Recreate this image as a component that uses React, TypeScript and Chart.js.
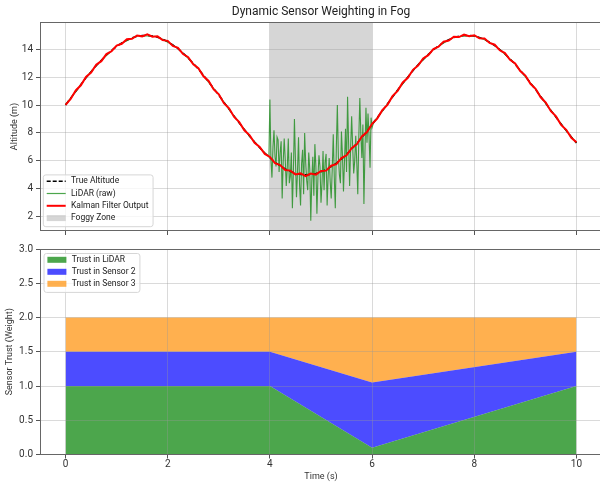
import React, { useEffect, useRef } from 'react';
import { Chart, registerables } from 'chart.js';

Chart.register(...registerables);

// ---------- data ----------
const TIME = [
  0.0, 0.1, 0.2, 0.3, 0.4, 0.5, 0.6, 0.7, 0.8, 0.9,
  1.0, 1.1, 1.2, 1.3, 1.4, 1.5, 1.6, 1.7, 1.8, 1.9,
  2.0, 2.1, 2.2, 2.3, 2.4, 2.5, 2.6, 2.7, 2.8, 2.9,
  3.0, 3.1, 3.2, 3.3, 3.4, 3.5, 3.6, 3.7, 3.8, 3.9,
  4.0, 4.1, 4.2, 4.3, 4.4, 4.5, 4.6, 4.7, 4.8, 4.9,
  5.0, 5.1, 5.2, 5.3, 5.4, 5.5, 5.6, 5.7, 5.8, 5.9,
  6.0, 6.1, 6.2, 6.3, 6.4, 6.5, 6.6, 6.7, 6.8, 6.9,
  7.0, 7.1, 7.2, 7.3, 7.4, 7.5, 7.6, 7.7, 7.8, 7.9,
  8.0, 8.1, 8.2, 8.3, 8.4, 8.5, 8.6, 8.7, 8.8, 8.9,
  9.0, 9.1, 9.2, 9.3, 9.4, 9.5, 9.6, 9.7, 9.8, 9.9,
  10.0,
];

const TRUE_ALTITUDE = [
  10.0, 10.5, 10.99, 11.48, 11.95, 12.4, 12.82, 13.22, 13.59, 13.92,
  14.21, 14.46, 14.66, 14.82, 14.93, 14.99, 15.0, 14.96, 14.87, 14.73,
  14.55, 14.32, 14.04, 13.73, 13.38, 12.99, 12.58, 12.14, 11.67, 11.19,
  10.71, 10.21, 9.71, 9.21, 8.72, 8.25, 7.79, 7.35, 6.94, 6.56,
  6.22, 5.91, 5.64, 5.42, 5.24, 5.11, 5.03, 5.0, 5.02, 5.09,
  5.21, 5.37, 5.58, 5.84, 6.13, 6.47, 6.84, 7.25, 7.68, 8.13,
  8.6, 9.09, 9.58, 10.08, 10.58, 11.08, 11.56, 12.02, 12.47, 12.89,
  13.28, 13.64, 13.96, 14.25, 14.49, 14.69, 14.84, 14.94, 14.99, 15.0,
  14.95, 14.85, 14.71, 14.52, 14.27, 13.99, 13.67, 13.31, 12.92, 12.5,
  12.06, 11.59, 11.11, 10.62, 10.12, 9.62, 9.13, 8.64, 8.17, 7.72,
  7.28,
];

const KALMAN_OUTPUT = [
  10.02, 10.44, 11.05, 11.42, 12.02, 12.33, 12.89, 13.15, 13.66, 13.86,
  14.27, 14.4, 14.72, 14.76, 14.99, 14.93, 15.07, 14.9, 14.93, 14.66,
  14.61, 14.25, 14.1, 13.66, 13.44, 12.92, 12.65, 12.07, 11.73, 11.12,
  10.77, 10.14, 9.77, 9.15, 8.78, 8.19, 7.85, 7.29, 7.0, 6.5,
  6.28, 5.84, 5.7, 5.34, 5.3, 5.03, 5.1, 4.91, 5.09, 5.01,
  5.28, 5.3, 5.65, 5.77, 6.2, 6.4, 6.91, 7.18, 7.75, 8.07,
  8.66, 9.03, 9.64, 10.02, 10.64, 11.02, 11.62, 11.96, 12.53, 12.83,
  13.34, 13.58, 14.02, 14.19, 14.55, 14.63, 14.9, 14.88, 15.05, 14.94,
  15.01, 14.79, 14.77, 14.46, 14.33, 13.93, 13.73, 13.25, 12.98, 12.44,
  12.12, 11.53, 11.17, 10.56, 10.18, 9.56, 9.19, 8.58, 8.23, 7.66,
  7.34,
];

const LIDAR_TIME = [
  0.0, 0.2, 0.4, 0.6, 0.8, 1.0, 1.2, 1.4, 1.6, 1.8,
  2.0, 2.2, 2.4, 2.6, 2.8, 3.0, 3.2, 3.4, 3.6, 3.8,
  3.9, 3.98,
  4.0, 4.02, 4.04, 4.06, 4.08, 4.1, 4.12, 4.14, 4.16, 4.18,
  4.2, 4.22, 4.24, 4.26, 4.28, 4.3, 4.32, 4.34, 4.36, 4.38,
  4.4, 4.42, 4.44, 4.46, 4.48, 4.5, 4.52, 4.54, 4.56, 4.58,
  4.6, 4.62, 4.64, 4.66, 4.68, 4.7, 4.72, 4.74, 4.76, 4.78,
  4.8, 4.82, 4.84, 4.86, 4.88, 4.9, 4.92, 4.94, 4.96, 4.98,
  5.0, 5.02, 5.04, 5.06, 5.08, 5.1, 5.12, 5.14, 5.16, 5.18,
  5.2, 5.22, 5.24, 5.26, 5.28, 5.3, 5.32, 5.34, 5.36, 5.38,
  5.4, 5.42, 5.44, 5.46, 5.48, 5.5, 5.52, 5.54, 5.56, 5.58,
  5.6, 5.62, 5.64, 5.66, 5.68, 5.7, 5.72, 5.74, 5.76, 5.78,
  5.8, 5.82, 5.84, 5.86, 5.88, 5.9, 5.92, 5.94, 5.96, 5.98,
  6.0,
  6.04, 6.1,
  6.2, 6.4, 6.6, 6.8, 7.0, 7.2, 7.4, 7.6, 7.8, 8.0,
  8.2, 8.4, 8.6, 8.8, 9.0, 9.2, 9.4, 9.6, 9.8, 10.0,
];

const LIDAR_RAW = [
  10.05, 10.95, 11.98, 12.85, 13.55, 14.25, 14.62, 14.97, 14.96, 14.91,
  14.51, 14.08, 13.35, 12.62, 11.63, 10.75, 9.68, 8.75, 7.76, 6.97,
  6.58, 6.28,
  10.4, 6.1, 4.8, 7.0, 8.2, 6.3, 5.6, 7.7, 7.5, 5.2,
  6.6, 7.4, 3.3, 5.9, 7.6, 6.1, 4.2, 5.5, 7.6, 4.4,
  4.9, 6.6, 2.6, 5.3, 9.0, 6.0, 3.4, 5.2, 7.7, 4.3,
  2.8, 5.8, 6.8, 3.6, 8.0, 5.9, 4.6, 3.9, 6.6, 5.4,
  1.7, 4.6, 6.3, 3.5, 7.2, 5.6, 2.2, 4.8, 6.4, 5.6,
  3.0, 4.4, 6.7, 3.9, 5.9, 6.5, 2.8, 4.9, 6.2, 4.5,
  3.3, 5.4, 7.9, 4.8, 2.6, 6.9, 10.0, 6.3, 5.0, 4.4,
  8.1, 6.4, 3.8, 6.0, 8.3, 5.2, 10.6, 7.3, 4.2, 6.9,
  9.2, 7.0, 5.1, 6.0, 7.8, 5.9, 3.6, 7.7, 10.5, 7.9,
  6.2, 8.6, 2.9, 6.6, 9.8, 7.3, 9.4, 7.8, 5.5, 9.1,
  8.4,
  8.85, 9.1,
  9.55, 10.62, 11.52, 12.5, 13.25, 13.99, 14.46, 14.87, 14.96, 14.98,
  14.68, 14.3, 13.64, 12.95, 12.03, 11.14, 10.09, 9.16, 8.14, 7.31,
];

const FOG_ZONE = [4, 6];

const TRUST_TIME = [0, 4, 6, 10];
const TRUST_LIDAR = [1.0, 1.0, 0.1, 1.0];
const TRUST_SENSOR2 = [0.5, 0.5, 0.95, 0.5];
const TRUST_SENSOR3 = [0.5, 0.5, 0.95, 0.5];

const X_TICKS = [0, 2, 4, 6, 8, 10];
const ALT_TICKS = [2, 4, 6, 8, 10, 12, 14];
const TRUST_TICKS = [0, 0.5, 1.0, 1.5, 2.0, 2.5, 3.0];

// ---------- styles ----------
const FONT = 'Roboto, "Noto Sans", sans-serif';
const GRID = 'rgba(150,150,150,0.45)';
const TICK_COLOR = '#555';
const TEXT = '#333';
const FOG_COLOR = 'rgba(128,128,128,0.32)';
const C_GREEN = 'rgba(0,128,0,0.7)';
const C_BLUE = 'rgba(0,0,255,0.7)';
const C_ORANGE = 'rgba(255,150,20,0.75)';

const pts = (xs: number[], ys: number[]) => xs.map((x, i) => ({ x, y: ys[i] }));

// ---------- plugins ----------
const fogPlugin = {
  id: 'fogZone',
  beforeDraw(chart: any, _args: any, opts: any) {
    if (!opts || !opts.range) return;
    const { ctx, chartArea, scales } = chart;
    const x0 = scales.x.getPixelForValue(opts.range[0]);
    const x1 = scales.x.getPixelForValue(opts.range[1]);
    ctx.save();
    ctx.fillStyle = opts.color;
    ctx.fillRect(x0, chartArea.top, x1 - x0, chartArea.bottom - chartArea.top);
    ctx.restore();
  },
};

const framePlugin = {
  id: 'frame',
  afterDraw(chart: any) {
    const { ctx, chartArea } = chart;
    ctx.save();
    ctx.strokeStyle = '#666';
    ctx.lineWidth = 1;
    const l = Math.round(chartArea.left) + 0.5;
    const t = Math.round(chartArea.top) + 0.5;
    const r = Math.round(chartArea.right) - 0.5;
    const b = Math.round(chartArea.bottom) - 0.5;
    ctx.strokeRect(l, t, r - l, b - t);
    ctx.restore();
  },
};

const boxLegendPlugin = {
  id: 'boxLegend',
  afterDraw(chart: any, _args: any, opts: any) {
    if (!opts || !opts.items) return;
    const { ctx, chartArea } = chart;
    const fontSize = 8.5;
    ctx.save();
    ctx.font = `${fontSize}px ${FONT}`;
    const items = opts.items as any[];
    const textW = Math.max(...items.map((it) => ctx.measureText(it.label).width));
    const rowH = opts.rowH;
    const padTop = 6.3;
    const padBottom = 8.6;
    const w = 27.7 + textW + 4.5;
    const h = padTop + rowH * (items.length - 1) + padBottom;
    const left = chartArea.left + opts.offsetX;
    const top = opts.anchor === 'bottom' ? chartArea.bottom - opts.offsetY - h : chartArea.top + opts.offsetY;
    const rad = 2.5;
    ctx.beginPath();
    ctx.moveTo(left + rad, top);
    ctx.lineTo(left + w - rad, top);
    ctx.quadraticCurveTo(left + w, top, left + w, top + rad);
    ctx.lineTo(left + w, top + h - rad);
    ctx.quadraticCurveTo(left + w, top + h, left + w - rad, top + h);
    ctx.lineTo(left + rad, top + h);
    ctx.quadraticCurveTo(left, top + h, left, top + h - rad);
    ctx.lineTo(left, top + rad);
    ctx.quadraticCurveTo(left, top, left + rad, top);
    ctx.closePath();
    ctx.fillStyle = 'rgba(255,255,255,0.8)';
    ctx.fill();
    ctx.strokeStyle = '#d6d6d6';
    ctx.lineWidth = 1;
    ctx.stroke();
    items.forEach((it, i) => {
      const y = top + padTop + i * rowH;
      const hx0 = left + 3.4;
      const hx1 = left + 22.4;
      if (it.type === 'box') {
        ctx.fillStyle = it.color;
        ctx.fillRect(hx0, y - 3, hx1 - hx0, 6);
      } else {
        ctx.beginPath();
        ctx.setLineDash(it.dash || []);
        ctx.strokeStyle = it.color;
        ctx.lineWidth = it.width;
        ctx.moveTo(hx0, y);
        ctx.lineTo(hx1, y);
        ctx.stroke();
        ctx.setLineDash([]);
      }
      ctx.fillStyle = '#222';
      ctx.textBaseline = 'middle';
      ctx.textAlign = 'left';
      ctx.fillText(it.label, left + 27.7, y);
    });
    ctx.restore();
  },
};

const setTicks = (list: number[]) => (scale: any) => {
  scale.ticks = list.map((v) => ({ value: v }));
};

export default function App() {
  const topRef = useRef<HTMLCanvasElement | null>(null);
  const botRef = useRef<HTMLCanvasElement | null>(null);

  useEffect(() => {
    document.body.style.margin = '0';
    Chart.defaults.font.family = FONT;
    Chart.defaults.color = TEXT;

    const xBase = (showLabels: boolean, h: number, gridZ: number) => ({
      type: 'linear' as const,
      min: -0.5,
      max: 10.5,
      afterBuildTicks: setTicks(X_TICKS),
      ticks: {
        display: showLabels,
        font: { size: 10 },
        color: TEXT,
        padding: 0,
        maxRotation: 0,
        callback: (v: any) => String(v),
      },
      grid: { color: GRID, lineWidth: 0.8, tickLength: 4, tickColor: TICK_COLOR, tickWidth: 1, z: gridZ },
      border: { display: false },
      afterFit: (s: any) => {
        s.height = h;
      },
    });

    const top = new Chart(topRef.current as HTMLCanvasElement, {
      type: 'line',
      data: {
        datasets: [
          {
            label: 'True Altitude',
            data: pts(TIME, TRUE_ALTITUDE),
            borderColor: '#000',
            borderDash: [5, 3],
            borderWidth: 1.5,
            pointRadius: 0,
            order: 3,
          },
          {
            label: 'LiDAR (raw)',
            data: pts(LIDAR_TIME, LIDAR_RAW),
            borderColor: C_GREEN,
            borderWidth: 1.1,
            pointRadius: 0,
            order: 2,
          },
          {
            label: 'Kalman Filter Output',
            data: pts(TIME, KALMAN_OUTPUT),
            borderColor: '#ff0000',
            borderWidth: 2,
            pointRadius: 0,
            order: 1,
          },
        ],
      },
      options: {
        animation: false,
        responsive: false,
        devicePixelRatio: 1,
        layout: { padding: { left: 0, right: 0, top: 0, bottom: 0 } },
        scales: {
          x: xBase(false, 9, -1) as any,
          y: {
            type: 'linear',
            min: 0.97,
            max: 15.96,
            afterBuildTicks: setTicks(ALT_TICKS),
            ticks: { font: { size: 10 }, color: TEXT, padding: 3, callback: (v: any) => String(v) },
            grid: { color: GRID, lineWidth: 0.8, tickLength: 4, tickColor: TICK_COLOR, tickWidth: 1 },
            border: { display: false },
            title: { display: true, text: 'Altitude (m)', font: { size: 9 }, color: TEXT, padding: { top: 9.6, bottom: 0 } },
            afterFit: (s: any) => {
              s.width = 40;
            },
          },
        },
        plugins: {
          legend: { display: false },
          tooltip: { enabled: false },
          title: {
            display: true,
            text: 'Dynamic Sensor Weighting in Fog',
            fullSize: false,
            font: { size: 12, weight: 'normal' },
            color: '#222',
            padding: { top: 5, bottom: 2.6 },
          },
          fogZone: { range: FOG_ZONE, color: FOG_COLOR },
          boxLegend: {
            anchor: 'bottom',
            offsetX: 3.3,
            offsetY: 4.3,
            rowH: 12.3,
            items: [
              { label: 'True Altitude', type: 'line', color: '#000', width: 1.5, dash: [4, 2] },
              { label: 'LiDAR (raw)', type: 'line', color: C_GREEN, width: 1.2 },
              { label: 'Kalman Filter Output', type: 'line', color: '#ff0000', width: 2 },
              { label: 'Foggy Zone', type: 'box', color: FOG_COLOR },
            ],
          },
        } as any,
      },
      plugins: [fogPlugin, framePlugin, boxLegendPlugin],
    });

    const bottom = new Chart(botRef.current as HTMLCanvasElement, {
      type: 'line',
      data: {
        datasets: [
          {
            label: 'Trust in LiDAR',
            data: pts(TRUST_TIME, TRUST_LIDAR),
            backgroundColor: C_GREEN,
            borderWidth: 0,
            pointRadius: 0,
            fill: 'origin',
            tension: 0,
          },
          {
            label: 'Trust in Sensor 2',
            data: pts(TRUST_TIME, TRUST_SENSOR2),
            backgroundColor: C_BLUE,
            borderWidth: 0,
            pointRadius: 0,
            fill: '-1',
            tension: 0,
          },
          {
            label: 'Trust in Sensor 3',
            data: pts(TRUST_TIME, TRUST_SENSOR3),
            backgroundColor: C_ORANGE,
            borderWidth: 0,
            pointRadius: 0,
            fill: '-1',
            tension: 0,
          },
        ],
      },
      options: {
        animation: false,
        responsive: false,
        devicePixelRatio: 1,
        layout: { padding: { left: 0, right: 0, top: 6, bottom: 0 } },
        scales: {
          x: {
            ...(xBase(true, 27.5, 1) as any),
            title: { display: true, text: 'Time (s)', font: { size: 9 }, color: TEXT, padding: { top: 0, bottom: 0 } },
          },
          y: {
            type: 'linear',
            stacked: true,
            min: 0,
            max: 3,
            afterBuildTicks: setTicks(TRUST_TICKS),
            ticks: { font: { size: 10 }, color: TEXT, padding: 3, callback: (v: any) => Number(v).toFixed(1) },
            grid: { color: GRID, lineWidth: 0.8, tickLength: 4, tickColor: TICK_COLOR, tickWidth: 1, z: 1 },
            border: { display: false },
            title: { display: true, text: 'Sensor Trust (Weight)', font: { size: 9 }, color: TEXT, padding: { top: 4, bottom: 0 } },
            afterFit: (s: any) => {
              s.width = 40;
            },
          },
        },
        plugins: {
          legend: { display: false },
          tooltip: { enabled: false },
          filler: { propagate: false },
          boxLegend: {
            anchor: 'top',
            offsetX: 4,
            offsetY: 4.5,
            rowH: 12,
            items: [
              { label: 'Trust in LiDAR', type: 'box', color: C_GREEN },
              { label: 'Trust in Sensor 2', type: 'box', color: C_BLUE },
              { label: 'Trust in Sensor 3', type: 'box', color: C_ORANGE },
            ],
          },
        } as any,
      },
      plugins: [framePlugin, boxLegendPlugin],
    });

    return () => {
      top.destroy();
      bottom.destroy();
    };
  }, []);

  return (
    <div style={{ position: 'relative', width: 600, height: 482, overflow: 'hidden', background: '#fff' }}>
      <canvas ref={topRef} width={602} height={240} style={{ position: 'absolute', left: 0, top: 0, width: 602, height: 240 }} />
      <canvas ref={botRef} width={602} height={242} style={{ position: 'absolute', left: 0, top: 240, width: 602, height: 242 }} />
    </div>
  );
}
